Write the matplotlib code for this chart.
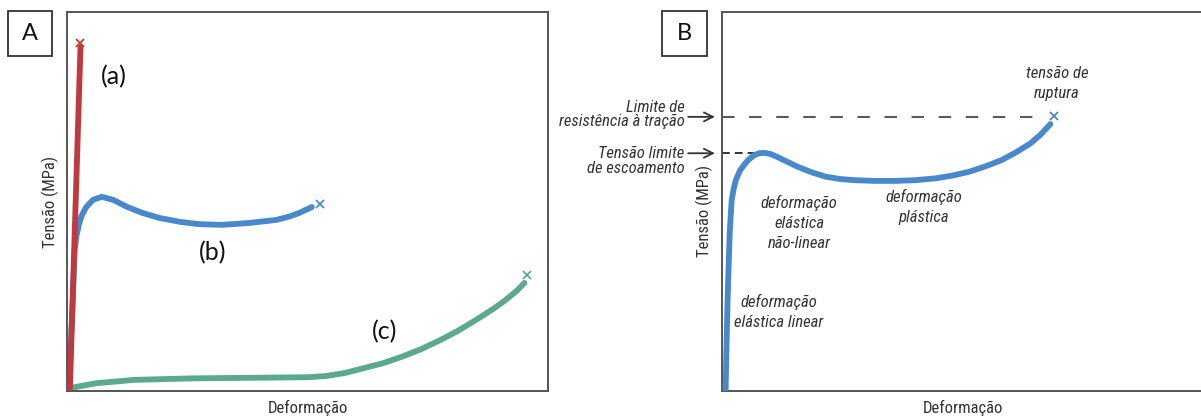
import matplotlib
matplotlib.use("Agg")
import matplotlib.pyplot as plt
from matplotlib.patches import Rectangle

# narrow sans for the labels (first installed one wins), calibri-like for the letters
NARROW = ["Roboto Condensed", "Archivo Narrow", "Liberation Sans Narrow", "Roboto", "DejaVu Sans"]
LETTER = ["Lato", "DejaVu Sans"]

RED = "#c0393e"
BLUE = "#4a88cc"
GREEN = "#5aaa8b"
FRAME = "#555555"
TEXT = "#333333"

# ---- panel A: three materials (arbitrary units, 0-100)
a_strain = [0.6, 2.8]
a_stress = [0.5, 90.5]
a_break = (2.8, 91.8)

b_strain = [0.4, 1.2, 1.6, 2.0, 2.5, 3.1, 4.0, 5.4, 7.2, 9.6, 12.4, 15.8, 19.3, 23.5, 27.4,
            32.2, 37.8, 43.5, 46.2, 48.2, 50.9]
b_stress = [0.7, 23.9, 37.1, 41.0, 43.9, 46.3, 48.4, 50.3, 51.1, 50.3, 48.5, 46.8, 45.5, 44.5, 43.9,
            43.7, 44.2, 45.0, 45.9, 46.8, 48.4]
b_break = (52.6, 49.2)

c_strain = [0.4, 6.0, 13.9, 25.9, 41.8, 50.0, 53.7, 57.7, 61.7, 65.7, 69.6, 73.6, 77.6, 81.5, 85.5,
            88.7, 91.1, 93.5, 95.1]
c_stress = [0.6, 1.9, 2.8, 3.2, 3.4, 3.5, 3.8, 4.6, 5.9, 7.2, 8.9, 10.9, 13.3, 15.9, 19.0,
            21.6, 23.8, 26.3, 28.4]
c_break = (95.6, 30.5)

# ---- panel B: typical ductile curve
d_strain = [0.74, 0.98, 1.15, 1.4, 1.58, 1.82, 1.99, 2.42, 2.83, 3.67, 4.51, 5.51, 6.6, 7.6, 8.69,
            9.94, 11.2, 13.3, 15.4, 18.3, 21.3, 24.2, 27.1, 31.3, 35.5, 39.7, 43.9, 47.2, 50.6,
            53.9, 57.3, 60.2, 63.2, 65.2, 67.3]
d_stress = [0.1, 15.1, 23.9, 34.4, 41.5, 46.8, 50.3, 53.4, 55.5, 58.0, 59.5, 61.0, 62.1, 62.6, 62.7,
            62.4, 61.7, 60.4, 59.1, 57.6, 56.4, 55.8, 55.5, 55.3, 55.3, 55.5, 56.0, 56.7, 57.7,
            59.1, 60.8, 62.8, 65.2, 67.4, 70.3]
d_break = (68.0, 72.5)
uts = 72.2
uts_end = 66.5
yield_stress = 62.6
yield_end = 8.2

W, H = 1201, 418
fig = plt.figure(figsize=(W / 100, H / 100), dpi=100)

def px_axes(left, right, top, bottom):
    return fig.add_axes([left / W, 1 - bottom / H, (right - left) / W, (bottom - top) / H])

def style(ax):
    ax.set_xticks([])
    ax.set_yticks([])
    ax.set_xlim(0, 100)
    ax.set_ylim(0, 100)
    for s in ax.spines.values():
        s.set_color(FRAME)
        s.set_linewidth(1.4)

ax_a = px_axes(67, 548, 11.5, 390.5)
ax_b = px_axes(722, 1210, 11.5, 390.5)
style(ax_a)
style(ax_b)
ax_b.spines["right"].set_visible(False)

lw = 4.2
curve = dict(lw=lw, solid_capstyle="round", solid_joinstyle="round")
ax_a.plot(b_strain, b_stress, color=BLUE, zorder=2, **curve)
ax_a.plot(c_strain, c_stress, color=GREEN, zorder=2, **curve)
ax_a.plot(a_strain, a_stress, color=RED, zorder=3, **curve)
for pt, col in ((a_break, RED), (b_break, BLUE), (c_break, GREEN)):
    ax_a.plot(*pt, marker="x", ms=6, mew=1.3, color=col, zorder=4)

ax_a.text(9.8, 82.7, "(a)", fontsize=18, family=LETTER, color="#111111", ha="center", va="center")
ax_a.text(30.2, 36.3, "(b)", fontsize=18, family=LETTER, color="#111111", ha="center", va="center")
ax_a.text(66.1, 15.4, "(c)", fontsize=18, family=LETTER, color="#111111", ha="center", va="center")

ax_b.plot(d_strain, d_stress, color=BLUE, zorder=3, **curve)
ax_b.plot(*d_break, marker="x", ms=6, mew=1.3, color=BLUE, zorder=4)
ax_b.plot([0, uts_end], [uts, uts], color="#5a5a5a", lw=1.5, ls=(0, (6, 7)), zorder=2)
ax_b.plot([0, yield_end], [yield_stress, yield_stress], color="#333333", lw=1.4, ls=(0, (4, 2.6)), zorder=2)

nfont = dict(family=NARROW, fontsize=12, style="italic", color=TEXT)
ax_b.text(68.6, 81.1, "tensão de\nruptura", ha="center", va="center", linespacing=1.42, **nfont)
ax_b.text(15.8, 44.1, "deformação\nelástica\nnão-linear", ha="center", va="center", linespacing=1.42, **nfont)
ax_b.text(41.4, 48.4, "deformação\nplástica", ha="center", va="center", linespacing=1.42, **nfont)
ax_b.text(11.6, 20.8, "deformação\nelástica linear", ha="center", va="center", linespacing=1.42, **nfont)

arrow = dict(arrowstyle="->", color="#333333", lw=1.3, mutation_scale=16)
ax_b.annotate("", xy=(-0.9, uts), xytext=(-7.5, uts), arrowprops=arrow, annotation_clip=False)
ax_b.annotate("", xy=(-0.9, yield_stress), xytext=(-7.5, yield_stress), arrowprops=arrow, annotation_clip=False)
ax_b.text(-7.7, uts + 0.6, "Limite de\nresistência à tração", ha="right", va="center", linespacing=0.95,
          clip_on=False, **nfont)
ax_b.text(-7.7, yield_stress - 2.0, "Tensão limite\nde escoamento", ha="right", va="center", linespacing=0.95,
          clip_on=False, **nfont)

afont = dict(family=NARROW, fontsize=12, color=TEXT)
ax_a.set_ylabel("Tensão (MPa)", va="center", **afont)
ax_a.yaxis.set_label_coords(-0.034, 0.498)
ax_a.set_xlabel("Deformação", va="center", **afont)
ax_a.xaxis.set_label_coords(0.501, -0.046)
ax_b.set_ylabel("Tensão (MPa)", va="center", **afont)
ax_b.yaxis.set_label_coords(-0.037, 0.474)
ax_b.set_xlabel("Deformação", va="center", **afont)
ax_b.xaxis.set_label_coords(0.493, -0.046)

# panel letters in boxes
for letter, x0 in (("A", 7.7), ("B", 662)):
    fig.patches.append(Rectangle((x0 / W, 1 - 55.7 / H), 44.5 / W, 44.7 / H, fill=False,
                                 edgecolor="#333333", lw=1.3, transform=fig.transFigure))
    fig.text((x0 + 22.3) / W, 1 - 33.5 / H, letter, fontsize=17, family=LETTER, color="#111111",
             ha="center", va="center")

fig.savefig("out.png", dpi=100)
